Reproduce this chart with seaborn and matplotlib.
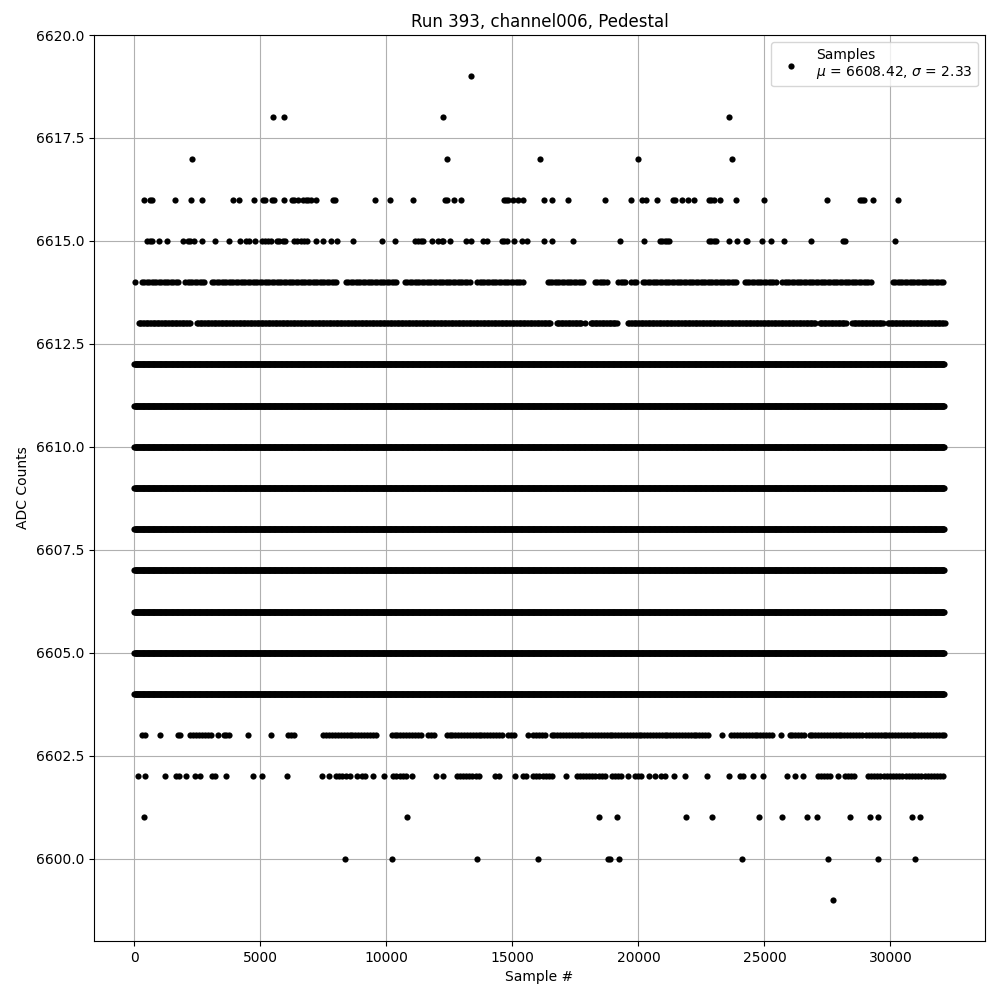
"""
Pedestal run 393, channel006: ADC counts per sample.
Values read off the reference plot (integer ADC levels vs sample index).
"""
import matplotlib
matplotlib.use("Agg")
import matplotlib.pyplot as plt
import seaborn as sns
import numpy as np
import pandas as pd

N_SAMPLES = 32150
MU, SIGMA = 6608.42, 2.33

# levels that are filled over the whole run
DENSE_LEVELS = [6604, 6605, 6606, 6607, 6608, 6609, 6610, 6611, 6612]

# sparse levels: single samples
LEVEL_6619 = [13360]
LEVEL_6618 = [5520, 5955, 12260, 23593]
LEVEL_6617 = [2272, 12418, 16102, 19986, 23711]
LEVEL_6616 = [369, 606, 701, 1597, 2231, 2667, 3896, 4133, 4767, 5100, 5192,
              5457, 5560, 5956, 6250, 6341, 6511, 6709, 6805, 6908, 7003, 7213,
              7875, 7966, 9563, 10157, 11069, 12325, 12392, 12693, 12971, 14663,
              14742, 14833, 15032, 15230, 15428, 16260, 16553, 17211, 18678,
              19708, 20144, 20318, 20738, 21372, 21440, 21729, 21967, 22193,
              22799, 22894, 22985, 23223, 23857, 24979, 27464, 28772, 28863,
              28958, 29326, 30289]
LEVEL_6615 = [503, 606, 701, 963, 1296, 1914, 2112, 2219, 2350, 2683, 3182,
              3737, 4173, 4438, 4557, 4795, 5084, 5192, 5298, 5417, 5654, 5757,
              5892, 5984, 6353, 6448, 6618, 6737, 6844, 7201, 7502, 7819, 8033,
              8691, 9840, 10355, 11136, 11267, 11362, 11465, 11822, 12060, 12194,
              12258, 12523, 13145, 13343, 13843, 14002, 14572, 14663, 14770,
              15071, 15388, 15586, 16260, 16577, 17409, 19260, 20223, 20845,
              20936, 21043, 21150, 21213, 22799, 22894, 22985, 23092, 23592,
              23909, 24281, 24321, 24900, 25244, 25771, 26841, 28109, 28205,
              30170]
LEVEL_6614 = [12]
LEVEL_6613 = [17873]
LEVEL_6603 = [1030, 3301, 4529, 5441, 15626, 23316, 25668]
LEVEL_6602 = [131, 436, 1201, 1664, 1756, 2049, 2418, 2616, 3079, 3210, 3646,
              4728, 5085, 6075, 7462, 7739, 8560, 8825, 9023, 9154, 9484, 9920,
              10276, 10383, 11003, 11968, 12233, 14306, 14478, 15101, 17120,
              19590, 20422, 20648, 21412, 21836, 22720, 23592, 24544, 24940,
              25890, 26223, 26524, 27912]
LEVEL_6601 = [369, 10831, 18440, 19154, 21876, 22906, 24781, 25692, 26683,
              27079, 28386, 29194, 29497, 30859, 31177]
LEVEL_6600 = [8375, 10237, 13606, 16023, 18797, 18864, 19233, 24107, 27516,
              29497, 30963]
LEVEL_6599 = [27714]

# stretches of consecutive-looking samples (start, end)
RUNS_6614 = [(305, 1784), (2021, 2814), (3079, 8032), (8402, 10474),
             (10738, 13383), (13606, 15496), (16393, 17873), (18270, 18797),
             (19194, 19524), (19722, 19986), (20183, 23950), (24214, 25468),
             (25706, 29233), (30091, 32140)]
RUNS_6613 = [(172, 2219), (2484, 16553), (16751, 17742), (18100, 19194),
             (19590, 27053), (27185, 28243), (28481, 29695), (29893, 32150)]
RUNS_6603 = [(305, 503), (1716, 1890), (2219, 3079), (3539, 3803), (6115, 6448),
             (7502, 9682), (10210, 11465), (11663, 11928), (12392, 14636),
             (14833, 15164), (15824, 16353), (16553, 22830), (23686, 25335),
             (25997, 26659), (26790, 28903), (29035, 32150)]
RUNS_6602 = [(8005, 8428), (10540, 10804), (12789, 13711), (15428, 15626),
             (15824, 16684), (17544, 18733), (18932, 19327), (19855, 20119),
             (20912, 21043), (24016, 24214), (27118, 27649), (28177, 28573),
             (29101, 32150)]


def expand(runs, step):
    return [s for a, b in runs for s in range(a, b + 1, step)]


def build():
    rows = []
    for lvl in DENSE_LEVELS:
        rows += [(s, lvl) for s in range(0, N_SAMPLES, 25)]
    singles = {6619: LEVEL_6619, 6618: LEVEL_6618, 6617: LEVEL_6617,
               6616: LEVEL_6616, 6615: LEVEL_6615, 6614: LEVEL_6614,
               6613: LEVEL_6613, 6603: LEVEL_6603, 6602: LEVEL_6602,
               6601: LEVEL_6601, 6600: LEVEL_6600, 6599: LEVEL_6599}
    for lvl, xs in singles.items():
        rows += [(s, lvl) for s in xs]
    for lvl, runs, step in [(6614, RUNS_6614, 95), (6613, RUNS_6613, 55),
                            (6603, RUNS_6603, 115), (6602, RUNS_6602, 125)]:
        rows += [(s, lvl) for s in expand(runs, step)]
    return pd.DataFrame(rows, columns=["sample", "adc"])


def main():
    df = build()
    fig, ax = plt.subplots(figsize=(10, 10), dpi=100)
    sns.scatterplot(data=df, x="sample", y="adc", color="black", s=20,
                    linewidth=0, ax=ax,
                    label=f"Samples\n$\\mu$ = {MU:.2f}, $\\sigma$ = {SIGMA:.2f}")
    ax.set_xlim(-1600, 33750)
    ax.set_ylim(6598, 6620)
    ax.set_yticks(np.arange(6600, 6620.1, 2.5))
    ax.set_xticks(np.arange(0, 30001, 5000))
    ax.grid(True, color="#b0b0b0", linewidth=0.8)
    ax.set_axisbelow(True)
    ax.set(title="Run 393, channel006, Pedestal", xlabel="Sample #", ylabel="ADC Counts")
    ax.legend(loc="upper right")
    fig.subplots_adjust(left=0.094, right=0.985, top=0.965, bottom=0.059)
    fig.savefig("out.png", dpi=100)
    plt.close(fig)


if __name__ == "__main__":
    main()
